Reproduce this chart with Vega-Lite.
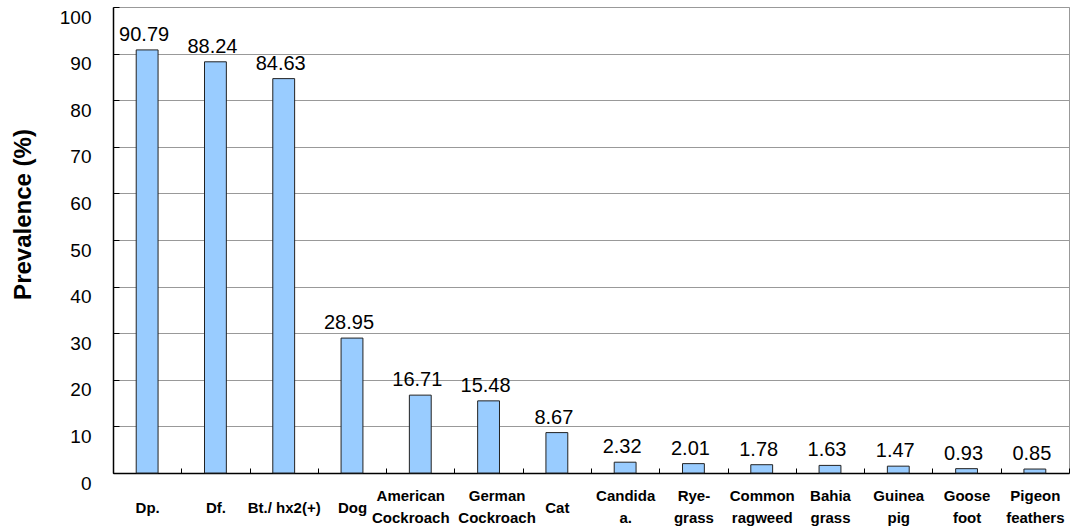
{
  "$schema": "https://vega.github.io/schema/vega-lite/v6.json",
  "width": 956,
  "height": 466,
  "autosize": {"type": "none"},
  "padding": {"left": 113, "top": 7, "right": 1, "bottom": 56},
  "background": "white",
  "config": {
    "font": "Liberation Sans",
    "view": {"stroke": "#999999", "strokeWidth": 1}
  },
  "data": {
    "values": [
      {"allergen": "Dp.", "prevalence": 90.79},
      {"allergen": "Df.", "prevalence": 88.24},
      {"allergen": "Bt./ hx2(+)", "prevalence": 84.63},
      {"allergen": "Dog", "prevalence": 28.95},
      {"allergen": "American Cockroach", "prevalence": 16.71},
      {"allergen": "German Cockroach", "prevalence": 15.48},
      {"allergen": "Cat", "prevalence": 8.67},
      {"allergen": "Candida a.", "prevalence": 2.32},
      {"allergen": "Rye-grass", "prevalence": 2.01},
      {"allergen": "Common ragweed", "prevalence": 1.78},
      {"allergen": "Bahia grass", "prevalence": 1.63},
      {"allergen": "Guinea pig", "prevalence": 1.47},
      {"allergen": "Goose foot", "prevalence": 0.93},
      {"allergen": "Pigeon feathers", "prevalence": 0.85}
    ]
  },
  "encoding": {
    "x": {
      "field": "allergen",
      "type": "nominal",
      "sort": null,
      "scale": {"paddingInner": 0, "paddingOuter": 0},
      "axis": {
        "title": null,
        "labelAngle": 0,
        "labelExpr": "datum.label == 'Bt./ hx2(+)' ? datum.label : split(replace(datum.label, '-', '- '), ' ')",
        "labelFont": "Liberation Sans",
        "labelFontWeight": "bold",
        "labelFontSize": 15,
        "labelColor": "black",
        "labelLineHeight": 22,
        "labelBaseline": "middle",
        "labelPadding": {
          "condition": {"test": "datum.value == 'Dp.' || datum.value == 'Df.' || datum.value == 'Bt./ hx2(+)' || datum.value == 'Dog' || datum.value == 'Cat'", "value": 39},
          "value": 27
        },
        "labelOffset": {
          "condition": [
            {"test": "datum.value == 'American Cockroach'", "value": -10},
            {"test": "datum.value == 'German Cockroach'", "value": 8}
          ],
          "value": 0
        },
        "tickBand": "extent",
        "tickSize": -5,
        "tickColor": "black",
        "domainColor": "black",
        "domainWidth": 1.5,
        "labelOverlap": false,
        "labelLimit": 0
      }
    },
    "y": {
      "field": "prevalence",
      "type": "quantitative",
      "scale": {"domain": [0, 100], "nice": false},
      "axis": {
        "title": "Prevalence (%)",
        "titleFont": "Liberation Sans",
        "titleFontSize": 24,
        "titleFontWeight": "bold",
        "titleColor": "black",
        "titlePadding": 24,
        "titleY": 207,
        "values": [0, 10, 20, 30, 40, 50, 60, 70, 80, 90, 100],
        "labelFont": "Liberation Sans",
        "labelFontSize": 19,
        "labelColor": "black",
        "labelOffset": 10,
        "labelPadding": 28,
        "tickSize": -6,
        "tickColor": "black",
        "domainColor": "black",
        "domainWidth": 1.5,
        "grid": true,
        "gridColor": "#999999",
        "gridWidth": 1
      }
    }
  },
  "layer": [
    {
      "mark": {"type": "bar", "width": {"band": 0.32}, "fill": "#99CCFF", "stroke": "#222222", "strokeWidth": 1}
    },
    {
      "mark": {"type": "text", "baseline": "bottom", "dy": -5, "dx": -3, "fontSize": 20, "font": "Liberation Sans", "color": "black"},
      "encoding": {
        "text": {"field": "prevalence", "type": "quantitative", "format": ".2f"}
      }
    }
  ]
}
